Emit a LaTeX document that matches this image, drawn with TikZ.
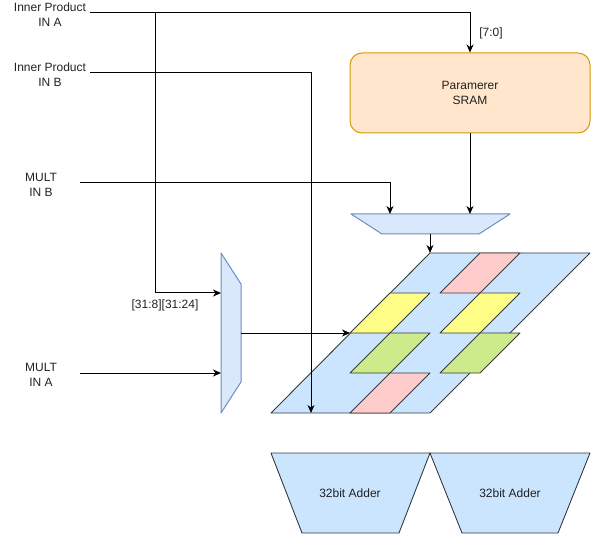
\documentclass[tikz,border=0pt]{standalone}
\usepackage{fontspec}
\setmainfont{Liberation Sans}
\usetikzlibrary{arrows.meta}
\definecolor{txt}{HTML}{222222}
\definecolor{muxfill}{HTML}{DAE8FC}
\definecolor{muxline}{HTML}{6C8EBF}
\definecolor{bluefill}{HTML}{CCE5FF}
\definecolor{dk}{HTML}{36393D}
\definecolor{yel}{HTML}{FFFF88}
\definecolor{grn}{HTML}{CDEB8B}
\definecolor{pnk}{HTML}{FFCCCC}
\definecolor{sramfill}{HTML}{FFE6CC}
\definecolor{sramline}{HTML}{D79B00}
\begin{document}
\begin{tikzpicture}[x=1pt,y=-1pt,
  lbl/.style={font=\fontsize{12}{15}\selectfont, text=txt, align=center, inner sep=0pt},
  wire/.style={draw=black, line width=1pt, -{Stealth[length=8pt,width=7pt,inset=2.5pt]}},
  plain/.style={draw=black, line width=1pt},
  cellbox/.style={draw=dk, line width=0.9pt, line join=round},
  muxbox/.style={draw=muxline, fill=muxfill, line width=1pt, line join=round}]
\useasboundingbox (0,0) rectangle (591,534);

% ---- labels ----
\node[lbl] (ipa) at (50,14.5) {Inner Product\\IN A};
\node[lbl] (ipb) at (50,74.5) {Inner Product\\IN B};
\node[lbl] (mib) at (41,184.5) {MULT\\IN B};
\node[lbl] (mia) at (41,374.5) {MULT\\IN A};
\node[lbl] (lb70) at (491,33) {[7:0]};
\node[lbl] (lb31) at (165,305) {[31:8][31:24]};

% ---- SRAM ----
\node[lbl, draw=sramline, fill=sramfill, line width=1pt, rounded corners=12pt,
      minimum width=240pt, minimum height=80pt] (sram) at (470,93) {Paramerer\\SRAM};

% ---- top mux ----
\draw[muxbox] (351,214) -- (510,214) -- (479,234) -- (382,234) -- cycle;
\coordinate (tmuxA) at (390,214);
\coordinate (tmuxB) at (470,214);
\coordinate (tmuxO) at (430,234);

% ---- left mux ----
\draw[muxbox] (221,253) -- (241,284) -- (241,382) -- (221,413) -- cycle;
\coordinate (lmuxA) at (221,293);
\coordinate (lmuxB) at (221,373);
\coordinate (lmuxO) at (241,333);

% ---- array ----
\draw[cellbox, fill=bluefill] (271,413) -- (430,413) -- (590,253) -- (430,253) -- cycle;
\coordinate (arrT) at (430,253);
\coordinate (arrL) at (350,333);
\coordinate (arrB) at (311,413);
% right column
\draw[cellbox, fill=pnk] (440,293) -- (480,293) -- (520,253) -- (480,253) -- cycle;
\draw[cellbox, fill=yel] (440,333) -- (480,333) -- (520,293) -- (480,293) -- cycle;
\draw[cellbox, fill=grn] (440,373) -- (480,373) -- (520,333) -- (480,333) -- cycle;
% left column
\draw[cellbox, fill=yel] (350,333) -- (390,333) -- (430,293) -- (390,293) -- cycle;
\draw[cellbox, fill=grn] (350,373) -- (390,373) -- (430,333) -- (390,333) -- cycle;
\draw[cellbox, fill=pnk] (350,413) -- (390,413) -- (430,373) -- (390,373) -- cycle;

% ---- adders ----
\draw[cellbox, fill=bluefill] (271,453) -- (430,453) -- (399,533) -- (302,533) -- cycle;
\draw[cellbox, fill=bluefill] (430,453) -- (590,453) -- (558,533) -- (462,533) -- cycle;
\node[lbl] (add1) at (350,493) {32bit Adder};
\node[lbl] (add2) at (510,493) {32bit Adder};

% ---- connectors ----
\coordinate (ipaS) at (90,13);
\coordinate (ipbS) at (90,73);
\coordinate (mibS) at (80,183);
\coordinate (miaS) at (80,373);
\coordinate (brA) at (155,13);

\draw[wire] (ipaS) -| (sram.north);
\draw[wire] (brA) |- (lmuxA);
\draw[wire] (ipbS) -| (arrB);
\draw[wire] (mibS) -| (tmuxA);
\draw[wire] (sram.south) -- (tmuxB);
\draw[wire] (tmuxO) -- (arrT);
\draw[wire] (miaS) -- (lmuxB);
\draw[wire] (lmuxO) -- (arrL);
\end{tikzpicture}
\end{document}
